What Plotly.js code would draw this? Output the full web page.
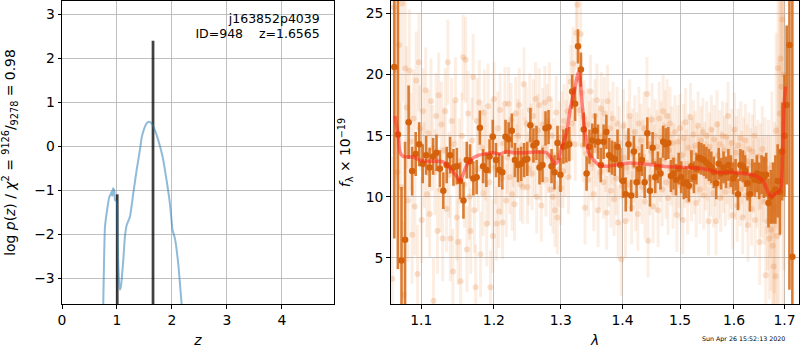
<!DOCTYPE html>
<html>
<head>
<meta charset="utf-8">
<script src="https://cdn.plot.ly/plotly-3.0.1.min.js"></script>
<style>html,body{margin:0;padding:0;background:#fff}#plot{width:800px;height:350px}</style>
</head>
<body>
<div id="plot"></div>
<script>
// ---- left panel: redshift PDF ----
const pzZ = [0.745,0.751,0.765,0.782,0.812,0.86,0.89,0.903,0.915,0.925,0.933,0.942,0.952,0.964,0.994,1.01,1.025,1.042,1.055,1.07,1.091,1.12,1.145,1.176,1.236,1.297,1.358,1.418,1.45,1.49,1.54,1.582,1.63,1.69,1.752,1.83,1.903,1.964,2.012,2.03,2.055,2.115,2.176,2.19];
const pzLogP = [-3.9,-3.57,-2.6,-1.83,-1.52,-1.15,-1.08,-1.03,-1.12,-0.98,-0.95,-1.1,-0.98,-1.22,-1.25,-2.0,-2.7,-3.15,-3.25,-3.2,-2.96,-2.5,-2.05,-1.79,-1.6,-1.07,-0.54,-0.08,0.2,0.38,0.52,0.56,0.52,0.37,0.14,-0.23,-0.77,-1.3,-1.9,-1.98,-2.09,-2.66,-3.57,-3.8];
const chiZ = [1.005, 1.6565];
const chiTop = [-1.09, 2.40];
const infoLines = ['j163852p4039', 'ID=948\u00a0\u00a0\u00a0\u00a0z=1.6565'];

// ---- right panel: spectrum ----
const sLam = [1.0650,1.0696,1.0742,1.0788,1.0834,1.0880,1.0926,1.0972,1.1018,1.1064,1.1110,1.1156,1.1202,1.1248,1.1294,1.1340,1.1386,1.1432,1.1478,1.1524,1.1570,1.1616,1.1662,1.1708,1.1754,1.1800,1.1846,1.1892,1.1938,1.1984,1.2030,1.2076,1.2122,1.2168,1.2214,1.2260,1.2306,1.2352,1.2398,1.2444,1.2490,1.2536,1.2582,1.2628,1.2674,1.2720,1.2766,1.2812,1.2858,1.2904,1.2950,1.2996,1.3042,1.3088,1.3134,1.3180,1.3226,1.3272,1.3318,1.3364,1.3410,1.3456,1.3502,1.3548,1.3594,1.3640,1.3686,1.3732,1.3778,1.3824,1.3870,1.3916,1.3962,1.4008,1.4054,1.4100,1.4146,1.4192,1.4238,1.4284,1.4330,1.4376,1.4422,1.4468,1.4514,1.4560,1.4606,1.4652,1.4698,1.4744,1.4790,1.4836,1.4882,1.4928,1.4974,1.5020,1.5066,1.5112,1.5158,1.5204,1.5250,1.5296,1.5342,1.5388,1.5434,1.5480,1.5526,1.5572,1.5618,1.5664,1.5710,1.5756,1.5802,1.5848,1.5894,1.5940,1.5986,1.6032,1.6078,1.6124,1.6170,1.6216,1.6262,1.6308,1.6354,1.6400,1.6446,1.6492,1.6538,1.6584,1.6630,1.6676,1.6722,1.6768,1.6814,1.6860,1.6906,1.6952,1.6998,1.7044,1.7100,1.7160];
const sFlux = [20.6,15.1,4.8,6.5,16.1,12.1,13.5,14.3,12.7,13.4,12.4,13.3,13.6,12.3,10.5,12.6,13.4,12.4,12.5,11.3,9.7,13.0,12.9,11.5,11.6,15.65,12.5,12.2,13.3,14.9,13.0,12.2,12.0,14.9,14.7,15.4,13.0,12.6,12.7,13.0,13.1,15.85,14.2,14.4,12.4,12.6,15.6,15.7,12.5,12.0,14.4,11.8,14.1,14.2,14.3,18.6,17.6,22.3,20.4,15.5,11.9,14.1,14.6,15.4,14.5,12.6,14.5,15.3,13.4,13.2,13.1,14.1,12.6,11.3,10.2,14.3,10.1,13.7,11.2,12.3,13.0,11.2,15.2,10.5,14.0,11.6,12.4,11.9,14.5,14.3,14.4,11.7,11.9,11.4,12.3,11.6,11.1,11.2,10.9,12.5,11.6,12.3,13.2,13.1,13.0,12.8,12.6,12.4,12.0,11.1,12.7,11.9,12.4,12.0,12.6,12.1,11.5,11.8,10.2,12.6,12.5,12.1,11.1,10.2,11.7,11.4,11.9,11.3,11.8,11.6,11.8,9.5,10.0,10.3,10.6,11.3,10.4,13.7,15.0,17.5,22.4,5.1];
const sErr = [14,11,6,8,3,2.0,1.8,1.8,1.6,1.6,1.6,1.5,1.5,1.5,1.5,1.5,1.5,1.5,1.5,1.5,1.5,1.5,1.4,1.4,1.4,1.4,1.4,1.4,1.4,1.4,1.4,1.4,1.4,1.4,1.4,1.4,1.4,1.4,1.4,1.4,1.4,1.4,1.4,1.4,1.4,1.4,1.4,1.4,1.4,1.4,1.4,1.4,1.4,1.4,1.4,1.4,1.4,1.4,1.4,1.4,1.4,1.4,1.4,1.4,1.4,1.4,1.4,1.4,1.4,1.4,1.4,1.4,1.4,1.4,1.4,1.3,1.3,1.3,1.3,1.3,1.3,1.3,1.3,1.3,1.3,1.3,1.3,1.3,1.3,1.3,1.3,1.3,1.3,1.3,1.3,1.3,1.3,1.3,1.3,1.3,1.3,1.3,1.3,1.3,1.3,1.3,1.3,1.3,1.3,1.3,1.3,1.3,1.3,1.3,1.3,1.3,1.3,1.3,1.3,1.3,1.3,1.3,1.4,1.4,1.4,1.4,1.5,1.5,1.6,1.7,1.8,2.0,2.2,2.5,2.8,3.0,3.5,4.0,5.0,6.5,20,25];

const fLam = [1.0625,1.0645,1.0668,1.0690,1.0712,1.0735,1.0752,1.0770,1.0790,1.0808,1.0825,1.0845,1.0862,1.0880,1.0898,1.0915,1.0932,1.0950,1.0968,1.0985,
1.1005,1.1022,1.1040,1.1058,1.1075,1.1092,1.1110,1.1128,1.1145,1.1162,1.1180,1.1198,1.1215,1.1232,1.1250,1.1268,1.1285,1.1302,1.1320,1.1338,1.1355,1.1372,1.1390,1.1408,1.1425,1.1442,1.1460,1.1478,1.1495,1.1512,1.1530,1.1548,1.1565,1.1582,1.1600,1.1618,1.1635,1.1652,1.1670,1.1688,1.1705,1.1722,1.1740,1.1758,1.1775,1.1792,1.1810,1.1828,1.1845,1.1862,1.1880,1.1898,1.1915,1.1932,1.1950,1.1968,
1.1985,1.2002,1.2020,1.2038,1.2055,1.2072,1.2090,1.2108,1.2125,1.2142,1.2160,1.2178,1.2195,1.2212,1.2230,1.2248,1.2265,1.2282,1.2300,1.2318,1.2335,1.2352,1.2370,1.2388,1.2405,1.2422,1.2440,1.2458,1.2475,1.2492,1.2510,1.2528,1.2545,1.2562,1.2580,1.2598,1.2615,1.2632,1.2650,1.2668,1.2685,1.2702,1.2720,1.2738,1.2755,1.2772,1.2790,1.2808,1.2825,1.2842,1.2860,1.2878,1.2895,1.2912,1.2930,1.2948,1.2965,1.2982,
1.3000,1.3018,1.3035,1.3052,1.3070,1.3088,1.3105,1.3122,1.3140,1.3158,1.3175,1.3192,1.3210,1.3228,1.3245,1.3262,1.3280,1.3298,1.3315,1.3332,1.3350,1.3368,1.3385,1.3402,1.3420,1.3438,1.3455,1.3472,1.3490,1.3508,1.3525,1.3542,1.3560,1.3578,1.3595,1.3612,1.3630,1.3648,1.3665,1.3682,1.3700,1.3718,1.3735,1.3752,1.3770,1.3788,1.3805,1.3822,1.3840,1.3858,1.3875,1.3892,1.3910,1.3928,1.3945,1.3962,1.3980,1.3998,
1.4015,1.4032,1.4050,1.4068,1.4085,1.4102,1.4120,1.4138,1.4155,1.4172,1.4190,1.4208,1.4225,1.4242,1.4260,1.4278,1.4295,1.4312,1.4330,1.4348,1.4365,1.4382,1.4400,1.4418,1.4435,1.4452,1.4470,1.4488,1.4505,1.4522,1.4540,1.4558,1.4575,1.4592,1.4610,1.4628,1.4645,1.4662,1.4680,1.4698,1.4715,1.4732,1.4750,1.4768,1.4785,1.4802,1.4820,1.4838,1.4855,1.4872,1.4890,1.4908,1.4925,1.4942,1.4960,1.4978,
1.4995,1.5012,1.5030,1.5048,1.5065,1.5082,1.5100,1.5118,1.5135,1.5152,1.5170,1.5188,1.5205,1.5222,1.5240,1.5258,1.5275,1.5292,1.5310,1.5328,1.5345,1.5362,1.5380,1.5398,1.5415,1.5432,1.5450,1.5468,1.5485,1.5502,1.5520,1.5538,1.5555,1.5572,1.5590,1.5608,1.5625,1.5642,1.5660,1.5678,1.5695,1.5712,1.5730,1.5748,1.5765,1.5782,1.5800,1.5818,1.5835,1.5852,1.5870,1.5888,1.5905,1.5922,1.5940,1.5958,1.5975,1.5992,
1.6010,1.6028,1.6045,1.6062,1.6080,1.6098,1.6115,1.6132,1.6150,1.6168,1.6185,1.6202,1.6220,1.6238,1.6255,1.6272,1.6290,1.6308,1.6325,1.6342,1.6360,1.6378,1.6395,1.6412,1.6430,1.6448,1.6465,1.6482,1.6500,1.6518,1.6535,1.6552,1.6570,1.6588,1.6605,1.6622,1.6640,1.6658,1.6675,1.6692,1.6710,1.6728,1.6745,1.6762,1.6780,1.6798,1.6815,1.6832,1.6850,1.6868,1.6885,1.6902,1.6920,1.6938,1.6955,1.6972,1.6990];
const fFlux = [3.3,25.5,20.4,12.0,22.4,10.8,25.8,2.0,20.5,17.3,9.7,20.3,14.5,6.9,16.4,9.2,19.5,3.7,21.0,15.6,
8.1,17.0,12.6,18.7,10.2,15.2,8.6,17.8,14.0,1.5,12.0,16.6,7.2,18.3,10.6,15.9,6.6,13.8,17.0,9.0,21.0,11.8,6.6,16.2,3.9,14.3,17.9,8.3,6.3,12.9,3.1,15.0,21.4,11.0,21.2,5.7,16.8,10.0,7.2,14.6,19.8,8.9,2.6,16.2,12.3,17.7,5.3,14.0,10.3,16.9,13.2,7.8,17.4,11.2,2.6,15.0,
6.8,18.0,12.4,7.8,15.6,8.8,17.1,11.5,7.9,14.4,17.6,9.7,13.2,17.6,11.6,16.3,10.2,13.8,9.4,16.8,12.9,15.0,17.5,11.0,14.2,10.8,19.2,13.5,16.0,10.8,12.3,17.1,14.6,11.9,16.6,13.0,18.0,10.0,15.4,17.5,12.7,9.3,15.9,14.0,17.7,11.4,16.2,13.3,18.0,10.6,15.0,10.0,13.4,8.9,16.9,8.3,12.2,14.8,
10.7,15.6,12.1,16.2,13.0,14.9,17.0,11.6,14.5,19.4,16.0,20.9,18.0,14.3,23.4,25.7,19.6,17.1,23.3,18.5,14.2,16.5,9.1,13.5,15.9,11.4,14.8,18.6,12.7,15.1,10.2,16.6,13.8,17.9,8.9,14.5,12.0,17.2,15.0,11.2,16.8,13.4,8.7,17.8,12.2,15.6,10.5,14.0,16.4,9.8,13.0,11.5,16.0,7.9,14.4,12.8,4.9,10.9,
15.8,13.2,8.0,12.4,14.8,11.0,16.6,13.5,9.1,14.2,12.5,15.3,10.2,13.9,8.6,16.0,12.0,14.6,10.8,13.3,15.6,9.6,12.8,18.4,6.4,14.3,11.5,13.7,16.3,9.2,12.9,15.0,11.8,14.1,8.9,16.4,12.6,14.8,10.6,17.0,13.1,15.7,11.2,16.6,9.9,13.8,16.0,12.3,14.4,10.4,13.0,15.3,11.6,8.5,14.5,12.1,
15.6,10.9,13.4,8.1,14.8,11.9,16.1,12.7,9.7,14.0,12.2,16.5,10.8,13.6,15.1,11.4,14.2,9.5,13.0,15.8,12.4,10.6,14.6,12.9,15.3,10.1,13.3,11.7,15.0,12.5,8.0,14.1,11.2,15.5,12.8,10.3,14.7,12.0,8.0,15.9,13.4,11.0,14.3,9.9,12.6,15.0,11.5,13.8,10.4,14.9,12.2,16.6,10.9,13.1,11.8,14.4,8.5,12.7,
15.5,11.1,13.6,9.3,14.2,12.0,10.6,14.8,12.4,8.3,13.5,11.3,14.6,10.1,12.9,7.7,13.9,11.0,12.6,9.0,13.7,11.7,15.0,8.1,12.8,10.5,13.3,11.9,6.3,12.5,10.2,13.9,11.4,9.6,13.0,3.6,11.0,8.0,12.3,6.6,10.0,7.3,12.6,6.0,4.3,9.1,3.5,15.4,6.8,20.5,11.2,16.8,21.3,19.0,24.5,14.0,20.0];
const fErr = [10,12,9,8,8,7,8,6,6,5,5,5,4,4,4,4,4,4,4,3.5,
3.5,3.5,3.5,3.5,3.5,3.5,3.5,3.5,3.5,3.5,3.5,3.5,3.5,3.5,3.5,3.5,3.5,3.5,3.5,3.5,3.5,3.5,3.5,3.5,3.5,3.5,3.5,3.5,3.5,3.5,3.5,3.5,3.5,3.5,3.5,3.5,3.5,3.5,3.5,3.5,3.5,3.5,3.5,3.5,3.5,3.5,3.5,3.5,3.5,3.5,3.5,3.5,3.5,3.5,3,3,
3,3,3,3,3,3,3,3,3,3,3,3,3,3,3,3,3,3,3,3,3,3,3,3,3,3,3,3,3,3,3,3,3,3,3,3,3,3,3,3,3,3,3,3,3,3,3,3,3,3,3,3,3,3,3,3,3,3,
3,3,3,3,3,3,3,3,3,3,3,3,3,3,3,3,3,3,3,3,3,3,3,3,3,3,3,3,3,3,3,3,3,3,3,3,3,3,3,3,3,3,3,3,3,3,3,3,3,3,3,3,3,3,3,3,3,3,
3,3,3,3,3,3,3,3,3,3,3,3,3,3,3,3,3,3,3,3,3,3,3,3,3,3,3,3,3,3,3,3,3,3,3,3,3,3,3,3,3,3,3,3,3,3,3,3,3,3,3,3,3,3,3,3,
2.8,2.8,2.8,2.8,2.8,2.8,2.8,2.8,2.8,2.8,2.8,2.8,2.8,2.8,2.8,2.8,2.8,2.8,2.8,2.8,2.8,2.8,2.8,2.8,2.8,2.8,2.8,2.8,2.8,2.8,2.8,2.8,2.8,2.8,2.8,2.8,2.8,2.8,2.8,2.8,2.8,2.8,2.8,2.8,2.8,2.8,2.8,2.8,2.8,2.8,2.8,2.8,2.8,2.8,2.8,2.8,2.8,2.8,
3,3,3,3,3,3,3,3,3,3,3,3,3,3,3,3,3,3,3,3,3,3,3,3,3,3,3,3,3.5,3.5,3.5,3.5,3.5,3.5,3.5,4,4,4,4,5,5,5,6,6,7,7,8,8,9,9,10,10,12,12,14,15,16];

const mLam = [1.0658,1.0701,1.0722,1.0765,1.0895,1.0982,1.1115,1.1249,1.1317,1.1385,1.1467,1.1522,1.1559,1.1615,1.1685,1.1778,1.1873,1.1992,1.2088,1.2185,1.2283,1.2431,1.2632,1.2784,1.2861,1.2913,1.2964,1.3016,1.3095,1.3147,1.3216,1.3279,1.3306,1.3343,1.3386,1.3440,1.3521,1.3629,1.3739,1.3848,1.3959,1.4127,1.4298,1.4470,1.4704,1.4941,1.5182,1.5427,1.5551,1.5676,1.5929,1.6186,1.6447,1.6579,1.6679,1.6746,1.6813,1.6881,1.6928,1.6969,1.6996,1.7023];
const mFlux = [16.6,14.9,13.66,13.3,13.25,13.0,12.9,12.9,12.76,12.3,11.75,11.3,11.75,12.57,13.1,13.39,13.5,13.6,13.5,13.7,13.6,13.6,13.66,13.6,13.1,12.7,13.0,14.07,15.3,17.1,18.7,20.2,19.5,17.3,15.2,13.66,13.0,12.57,12.49,12.57,12.65,12.76,12.7,12.65,12.5,12.43,12.38,12.3,12.16,12.0,12.0,11.9,11.67,11.2,10.25,10.0,10.25,10.4,10.8,14.6,17.9,19.0];

const lamTicks = [1.1,1.2,1.3,1.4,1.5,1.6,1.7];
const lamTickText = ['1.1','1.2','1.3','1.4','1.5','1.6','1.7'];
const BAR_BASE = -4;
// label anchor (right edge) of the info text, in left-panel axis units
const INFO_X = 4.69;
const INFO_Y = [2.864, 2.536];

const traces = [
  {type:'scatter', mode:'lines', x:pzZ, y:pzLogP, xaxis:'x', yaxis:'y',
   line:{color:'rgba(31,119,180,0.5)', width:2, shape:'spline', smoothing:0.5}, hoverinfo:'skip'},
  {type:'bar', x:chiZ, y:chiTop.map(v => v - BAR_BASE), base:BAR_BASE, width:0.05, xaxis:'x', yaxis:'y',
   marker:{color:'rgba(0,0,0,0.75)', line:{width:0}}, hoverinfo:'skip'},
  {type:'scatter', mode:'text', x:infoLines.map(() => INFO_X), y:INFO_Y, text:infoLines, xaxis:'x', yaxis:'y',
   textposition:'middle left', textfont:{family:'DejaVu Sans', size:12.5, color:'black'}, hoverinfo:'skip', cliponaxis:false},
  {type:'scatter', mode:'markers', x:fLam, y:fFlux, xaxis:'x2', yaxis:'y2',
   marker:{color:'rgba(230,130,60,0.24)', size:6, line:{width:0}},
   error_y:{type:'data', array:fErr, visible:true, color:'rgba(235,140,70,0.15)', thickness:3, width:0},
   hoverinfo:'skip'},
  {type:'scatter', mode:'markers', x:sLam, y:sFlux, xaxis:'x2', yaxis:'y2',
   marker:{color:'#d4620c', size:6.5, line:{width:0}},
   error_y:{type:'data', array:sErr, visible:true, color:'rgba(214,108,25,0.88)', thickness:2.6, width:0},
   hoverinfo:'skip'},
  {type:'scatter', mode:'lines', x:mLam, y:mFlux, xaxis:'x2', yaxis:'y2',
   line:{color:'rgba(255,30,30,0.5)', width:3.5, shape:'spline', smoothing:0.6}, hoverinfo:'skip'}
];

const axisCommon = {
  showline:true, linecolor:'black', linewidth:1, mirror:true,
  ticks:'outside', ticklen:3.5, tickwidth:1, tickcolor:'black',
  showgrid:true, gridcolor:'#b0b0b0', gridwidth:0.8, zeroline:false,
  tickfont:{family:'DejaVu Sans', size:13.9, color:'black'}
};

const layout = {
  width:800, height:350, margin:{l:0,r:0,t:0,b:0},
  paper_bgcolor:'white', plot_bgcolor:'white', showlegend:false,
  font:{family:'DejaVu Sans', size:13.9, color:'black'},
  barmode:'overlay',
  xaxis: Object.assign({}, axisCommon, {domain:[0.0775,0.4175], range:[0,4.95], tickvals:[0,1,2,3,4], anchor:'y',
    title:{text:'<i>z</i>', font:{size:13.9}, standoff:8}}),
  yaxis: Object.assign({}, axisCommon, {domain:[0.1314,0.9971], range:[-3.58,3.30], tickvals:[-3,-2,-1,0,1,2,3], anchor:'x',
    title:{text:'log <i>p</i>(<i>z</i>) / <i>χ</i><sup>2</sup> = <sup>9126</sup>/<sub>9278</sub> = 0.98', font:{size:13.9}, standoff:15}}),
  xaxis2: Object.assign({}, axisCommon, {domain:[0.4884,0.9991], type:'log', range:[Math.log10(1.0604), Math.log10(1.7303)],
    tickvals:lamTicks, ticktext:lamTickText, anchor:'y2',
    title:{text:'<i>λ</i>', font:{size:13.9}, standoff:8}}),
  yaxis2: Object.assign({}, axisCommon, {domain:[0.1314,0.9971], range:[1.24,26.0], tickvals:[5,10,15,20,25], anchor:'x2',
    title:{text:'<i>f</i><sub>λ</sub> × 10<sup>−19</sup>', font:{size:13.9}, standoff:11}}),
  annotations:[
    {xref:'paper', yref:'paper', x:0.984, y:0.031, xanchor:'right', yanchor:'middle', showarrow:false,
     text:'Sun Apr 26 15:52:13 2020', font:{family:'DejaVu Sans', size:6.3, color:'black'}}
  ]
};

Plotly.newPlot('plot', traces, layout, {staticPlot:true, displayModeBar:false});
</script>
</body>
</html>
